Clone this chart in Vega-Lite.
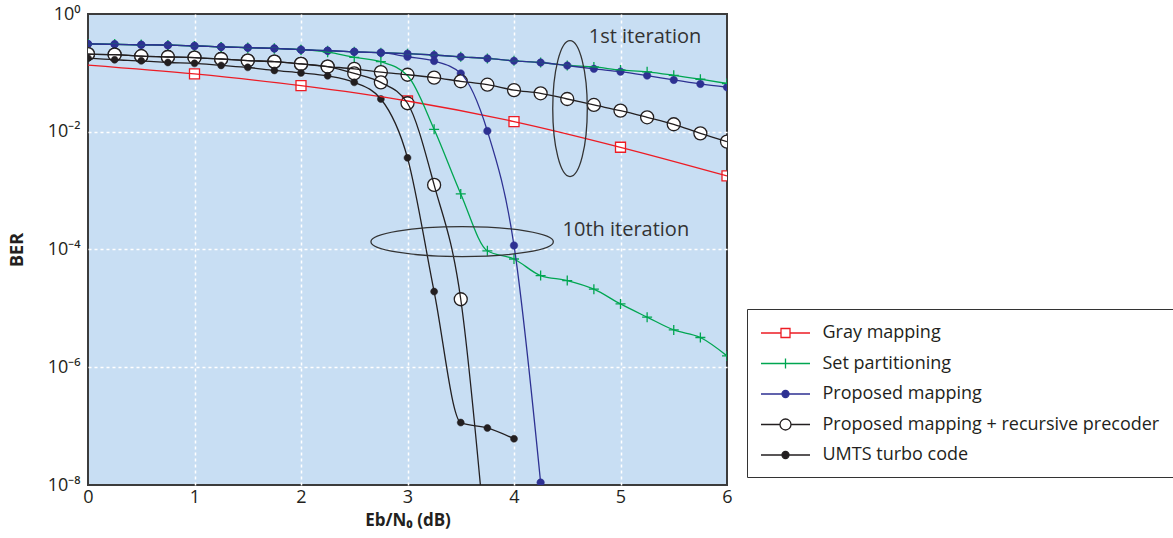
{
  "$schema": "https://vega.github.io/schema/vega-lite/v6.json",
  "autosize": "none",
  "width": 639,
  "height": 471,
  "padding": {"left": 88, "top": 14, "right": 446, "bottom": 53},
  "config": {
    "font": "Open Sans",
    "view": {"fill": "#c8def3", "stroke": "#3c3c3c", "strokeWidth": 2}
  },
  "datasets": {
    "curves": [
      {"s": "Gray mapping", "it": "-", "x": 0, "ber": 0.136},
      {"s": "Gray mapping", "it": "-", "x": 1, "ber": 0.0958},
      {"s": "Gray mapping", "it": "-", "x": 2, "ber": 0.0607},
      {"s": "Gray mapping", "it": "-", "x": 3, "ber": 0.0333},
      {"s": "Gray mapping", "it": "-", "x": 4, "ber": 0.0149},
      {"s": "Gray mapping", "it": "-", "x": 5, "ber": 0.00545},
      {"s": "Gray mapping", "it": "-", "x": 6, "ber": 0.00178},

      {"s": "Set partitioning", "it": "1st", "x": 0, "ber": 0.31},
      {"s": "Set partitioning", "it": "1st", "x": 0.25, "ber": 0.306},
      {"s": "Set partitioning", "it": "1st", "x": 0.5, "ber": 0.3},
      {"s": "Set partitioning", "it": "1st", "x": 0.75, "ber": 0.295},
      {"s": "Set partitioning", "it": "1st", "x": 1, "ber": 0.287},
      {"s": "Set partitioning", "it": "1st", "x": 1.25, "ber": 0.276},
      {"s": "Set partitioning", "it": "1st", "x": 1.5, "ber": 0.268},
      {"s": "Set partitioning", "it": "1st", "x": 1.75, "ber": 0.26},
      {"s": "Set partitioning", "it": "1st", "x": 2, "ber": 0.248},
      {"s": "Set partitioning", "it": "1st", "x": 2.25, "ber": 0.238},
      {"s": "Set partitioning", "it": "1st", "x": 2.5, "ber": 0.228},
      {"s": "Set partitioning", "it": "1st", "x": 2.75, "ber": 0.22},
      {"s": "Set partitioning", "it": "1st", "x": 3, "ber": 0.212},
      {"s": "Set partitioning", "it": "1st", "x": 3.25, "ber": 0.201},
      {"s": "Set partitioning", "it": "1st", "x": 3.5, "ber": 0.187},
      {"s": "Set partitioning", "it": "1st", "x": 3.75, "ber": 0.176},
      {"s": "Set partitioning", "it": "1st", "x": 4, "ber": 0.16},
      {"s": "Set partitioning", "it": "1st", "x": 4.25, "ber": 0.15},
      {"s": "Set partitioning", "it": "1st", "x": 4.5, "ber": 0.134},
      {"s": "Set partitioning", "it": "1st", "x": 4.75, "ber": 0.126},
      {"s": "Set partitioning", "it": "1st", "x": 5, "ber": 0.112},
      {"s": "Set partitioning", "it": "1st", "x": 5.25, "ber": 0.104},
      {"s": "Set partitioning", "it": "1st", "x": 5.5, "ber": 0.091},
      {"s": "Set partitioning", "it": "1st", "x": 5.75, "ber": 0.078},
      {"s": "Set partitioning", "it": "1st", "x": 6, "ber": 0.066},

      {"s": "Set partitioning", "it": "10th", "x": 0, "ber": 0.31},
      {"s": "Set partitioning", "it": "10th", "x": 0.25, "ber": 0.306},
      {"s": "Set partitioning", "it": "10th", "x": 0.5, "ber": 0.3},
      {"s": "Set partitioning", "it": "10th", "x": 0.75, "ber": 0.295},
      {"s": "Set partitioning", "it": "10th", "x": 1, "ber": 0.287},
      {"s": "Set partitioning", "it": "10th", "x": 1.25, "ber": 0.276},
      {"s": "Set partitioning", "it": "10th", "x": 1.5, "ber": 0.268},
      {"s": "Set partitioning", "it": "10th", "x": 1.75, "ber": 0.26},
      {"s": "Set partitioning", "it": "10th", "x": 2, "ber": 0.248},
      {"s": "Set partitioning", "it": "10th", "x": 2.25, "ber": 0.225},
      {"s": "Set partitioning", "it": "10th", "x": 2.5, "ber": 0.184},
      {"s": "Set partitioning", "it": "10th", "x": 2.75, "ber": 0.155},
      {"s": "Set partitioning", "it": "10th", "x": 3, "ber": 0.09},
      {"s": "Set partitioning", "it": "10th", "x": 3.25, "ber": 0.011},
      {"s": "Set partitioning", "it": "10th", "x": 3.5, "ber": 0.00088},
      {"s": "Set partitioning", "it": "10th", "x": 3.75, "ber": 0.000095},
      {"s": "Set partitioning", "it": "10th", "x": 4, "ber": 0.000069},
      {"s": "Set partitioning", "it": "10th", "x": 4.25, "ber": 0.000036},
      {"s": "Set partitioning", "it": "10th", "x": 4.5, "ber": 0.0000297},
      {"s": "Set partitioning", "it": "10th", "x": 4.75, "ber": 0.0000212},
      {"s": "Set partitioning", "it": "10th", "x": 5, "ber": 0.0000119},
      {"s": "Set partitioning", "it": "10th", "x": 5.25, "ber": 0.0000071},
      {"s": "Set partitioning", "it": "10th", "x": 5.5, "ber": 0.0000043},
      {"s": "Set partitioning", "it": "10th", "x": 5.75, "ber": 0.0000032},
      {"s": "Set partitioning", "it": "10th", "x": 6, "ber": 0.00000156},

      {"s": "Proposed mapping", "it": "1st", "x": 0, "ber": 0.31},
      {"s": "Proposed mapping", "it": "1st", "x": 0.25, "ber": 0.306},
      {"s": "Proposed mapping", "it": "1st", "x": 0.5, "ber": 0.3},
      {"s": "Proposed mapping", "it": "1st", "x": 0.75, "ber": 0.295},
      {"s": "Proposed mapping", "it": "1st", "x": 1, "ber": 0.287},
      {"s": "Proposed mapping", "it": "1st", "x": 1.25, "ber": 0.276},
      {"s": "Proposed mapping", "it": "1st", "x": 1.5, "ber": 0.268},
      {"s": "Proposed mapping", "it": "1st", "x": 1.75, "ber": 0.26},
      {"s": "Proposed mapping", "it": "1st", "x": 2, "ber": 0.248},
      {"s": "Proposed mapping", "it": "1st", "x": 2.25, "ber": 0.238},
      {"s": "Proposed mapping", "it": "1st", "x": 2.5, "ber": 0.228},
      {"s": "Proposed mapping", "it": "1st", "x": 2.75, "ber": 0.22},
      {"s": "Proposed mapping", "it": "1st", "x": 3, "ber": 0.212},
      {"s": "Proposed mapping", "it": "1st", "x": 3.25, "ber": 0.201},
      {"s": "Proposed mapping", "it": "1st", "x": 3.5, "ber": 0.187},
      {"s": "Proposed mapping", "it": "1st", "x": 3.75, "ber": 0.176},
      {"s": "Proposed mapping", "it": "1st", "x": 4, "ber": 0.16},
      {"s": "Proposed mapping", "it": "1st", "x": 4.25, "ber": 0.15},
      {"s": "Proposed mapping", "it": "1st", "x": 4.5, "ber": 0.133},
      {"s": "Proposed mapping", "it": "1st", "x": 4.75, "ber": 0.117},
      {"s": "Proposed mapping", "it": "1st", "x": 5, "ber": 0.105},
      {"s": "Proposed mapping", "it": "1st", "x": 5.25, "ber": 0.09},
      {"s": "Proposed mapping", "it": "1st", "x": 5.5, "ber": 0.076},
      {"s": "Proposed mapping", "it": "1st", "x": 5.75, "ber": 0.065},
      {"s": "Proposed mapping", "it": "1st", "x": 6, "ber": 0.057},

      {"s": "Proposed mapping", "it": "10th", "x": 0, "ber": 0.31},
      {"s": "Proposed mapping", "it": "10th", "x": 0.25, "ber": 0.306},
      {"s": "Proposed mapping", "it": "10th", "x": 0.5, "ber": 0.3},
      {"s": "Proposed mapping", "it": "10th", "x": 0.75, "ber": 0.295},
      {"s": "Proposed mapping", "it": "10th", "x": 1, "ber": 0.287},
      {"s": "Proposed mapping", "it": "10th", "x": 1.25, "ber": 0.276},
      {"s": "Proposed mapping", "it": "10th", "x": 1.5, "ber": 0.268},
      {"s": "Proposed mapping", "it": "10th", "x": 1.75, "ber": 0.26},
      {"s": "Proposed mapping", "it": "10th", "x": 2, "ber": 0.248},
      {"s": "Proposed mapping", "it": "10th", "x": 2.25, "ber": 0.238},
      {"s": "Proposed mapping", "it": "10th", "x": 2.5, "ber": 0.228},
      {"s": "Proposed mapping", "it": "10th", "x": 2.75, "ber": 0.22},
      {"s": "Proposed mapping", "it": "10th", "x": 3, "ber": 0.188},
      {"s": "Proposed mapping", "it": "10th", "x": 3.25, "ber": 0.159},
      {"s": "Proposed mapping", "it": "10th", "x": 3.5, "ber": 0.098},
      {"s": "Proposed mapping", "it": "10th", "x": 3.75, "ber": 0.0103},
      {"s": "Proposed mapping", "it": "10th", "x": 4, "ber": 0.000117},
      {"s": "Proposed mapping", "it": "10th", "x": 4.25, "ber": 0.000000011},

      {"s": "Proposed mapping + recursive precoder", "it": "1st", "x": 0, "ber": 0.209},
      {"s": "Proposed mapping + recursive precoder", "it": "1st", "x": 0.25, "ber": 0.204},
      {"s": "Proposed mapping + recursive precoder", "it": "1st", "x": 0.5, "ber": 0.192},
      {"s": "Proposed mapping + recursive precoder", "it": "1st", "x": 0.75, "ber": 0.186},
      {"s": "Proposed mapping + recursive precoder", "it": "1st", "x": 1, "ber": 0.182},
      {"s": "Proposed mapping + recursive precoder", "it": "1st", "x": 1.25, "ber": 0.172},
      {"s": "Proposed mapping + recursive precoder", "it": "1st", "x": 1.5, "ber": 0.162},
      {"s": "Proposed mapping + recursive precoder", "it": "1st", "x": 1.75, "ber": 0.155},
      {"s": "Proposed mapping + recursive precoder", "it": "1st", "x": 2, "ber": 0.142},
      {"s": "Proposed mapping + recursive precoder", "it": "1st", "x": 2.25, "ber": 0.128},
      {"s": "Proposed mapping + recursive precoder", "it": "1st", "x": 2.5, "ber": 0.117},
      {"s": "Proposed mapping + recursive precoder", "it": "1st", "x": 2.75, "ber": 0.103},
      {"s": "Proposed mapping + recursive precoder", "it": "1st", "x": 3, "ber": 0.093},
      {"s": "Proposed mapping + recursive precoder", "it": "1st", "x": 3.25, "ber": 0.083},
      {"s": "Proposed mapping + recursive precoder", "it": "1st", "x": 3.5, "ber": 0.072},
      {"s": "Proposed mapping + recursive precoder", "it": "1st", "x": 3.75, "ber": 0.063},
      {"s": "Proposed mapping + recursive precoder", "it": "1st", "x": 4, "ber": 0.051},
      {"s": "Proposed mapping + recursive precoder", "it": "1st", "x": 4.25, "ber": 0.045},
      {"s": "Proposed mapping + recursive precoder", "it": "1st", "x": 4.5, "ber": 0.036},
      {"s": "Proposed mapping + recursive precoder", "it": "1st", "x": 4.75, "ber": 0.0285},
      {"s": "Proposed mapping + recursive precoder", "it": "1st", "x": 5, "ber": 0.0228},
      {"s": "Proposed mapping + recursive precoder", "it": "1st", "x": 5.25, "ber": 0.0176},
      {"s": "Proposed mapping + recursive precoder", "it": "1st", "x": 5.5, "ber": 0.0134},
      {"s": "Proposed mapping + recursive precoder", "it": "1st", "x": 5.75, "ber": 0.0094},
      {"s": "Proposed mapping + recursive precoder", "it": "1st", "x": 6, "ber": 0.0068},

      {"s": "Proposed mapping + recursive precoder", "it": "10th", "x": 0, "ber": 0.209},
      {"s": "Proposed mapping + recursive precoder", "it": "10th", "x": 0.25, "ber": 0.204},
      {"s": "Proposed mapping + recursive precoder", "it": "10th", "x": 0.5, "ber": 0.192},
      {"s": "Proposed mapping + recursive precoder", "it": "10th", "x": 0.75, "ber": 0.186},
      {"s": "Proposed mapping + recursive precoder", "it": "10th", "x": 1, "ber": 0.182},
      {"s": "Proposed mapping + recursive precoder", "it": "10th", "x": 1.25, "ber": 0.172},
      {"s": "Proposed mapping + recursive precoder", "it": "10th", "x": 1.5, "ber": 0.162},
      {"s": "Proposed mapping + recursive precoder", "it": "10th", "x": 1.75, "ber": 0.155},
      {"s": "Proposed mapping + recursive precoder", "it": "10th", "x": 2, "ber": 0.142},
      {"s": "Proposed mapping + recursive precoder", "it": "10th", "x": 2.25, "ber": 0.128},
      {"s": "Proposed mapping + recursive precoder", "it": "10th", "x": 2.5, "ber": 0.098},
      {"s": "Proposed mapping + recursive precoder", "it": "10th", "x": 2.75, "ber": 0.069},
      {"s": "Proposed mapping + recursive precoder", "it": "10th", "x": 3, "ber": 0.0305},
      {"s": "Proposed mapping + recursive precoder", "it": "10th", "x": 3.25, "ber": 0.00125},
      {"s": "Proposed mapping + recursive precoder", "it": "10th", "x": 3.5, "ber": 0.0000143},
      {"s": "Proposed mapping + recursive precoder", "it": "10th", "x": 3.75, "ber": 0.00000000049},

      {"s": "UMTS turbo code", "it": "-", "x": 0, "ber": 0.178},
      {"s": "UMTS turbo code", "it": "-", "x": 0.25, "ber": 0.167},
      {"s": "UMTS turbo code", "it": "-", "x": 0.5, "ber": 0.16},
      {"s": "UMTS turbo code", "it": "-", "x": 0.75, "ber": 0.15},
      {"s": "UMTS turbo code", "it": "-", "x": 1, "ber": 0.145},
      {"s": "UMTS turbo code", "it": "-", "x": 1.25, "ber": 0.134},
      {"s": "UMTS turbo code", "it": "-", "x": 1.5, "ber": 0.124},
      {"s": "UMTS turbo code", "it": "-", "x": 1.75, "ber": 0.11},
      {"s": "UMTS turbo code", "it": "-", "x": 2, "ber": 0.1},
      {"s": "UMTS turbo code", "it": "-", "x": 2.25, "ber": 0.089},
      {"s": "UMTS turbo code", "it": "-", "x": 2.5, "ber": 0.069},
      {"s": "UMTS turbo code", "it": "-", "x": 2.75, "ber": 0.036},
      {"s": "UMTS turbo code", "it": "-", "x": 3, "ber": 0.0036},
      {"s": "UMTS turbo code", "it": "-", "x": 3.25, "ber": 0.0000193},
      {"s": "UMTS turbo code", "it": "-", "x": 3.5, "ber": 0.000000115},
      {"s": "UMTS turbo code", "it": "-", "x": 3.75, "ber": 0.000000093},
      {"s": "UMTS turbo code", "it": "-", "x": 4, "ber": 0.000000061}
    ],
    "notes": [
      {"x": 5.23, "ber": 0.407, "label": "1st iteration"},
      {"x": 5.05, "ber": 0.000215, "label": "10th iteration"}
    ],
    "ellipses": [
      {"name": "1st", "x": 4.526, "ber": 0.0247},
      {"name": "10th", "x": 3.513, "ber": 0.000136}
    ]
  },
  "encoding": {
    "x": {
      "field": "x", "type": "quantitative",
      "scale": {"domain": [0, 6], "nice": false, "zero": false},
      "axis": {
        "title": "Eb/N₀ (dB)",
        "values": [0, 1, 2, 3, 4, 5, 6],
        "format": "d",
        "domain": false, "ticks": false, "labelFlush": false,
        "labelFont": "Open Sans", "labelFontSize": 18, "labelColor": "#231f20", "labelPadding": 3,
        "titleFont": "Open Sans", "titleFontSize": 17, "titleFontWeight": "bold", "titleColor": "#231f20", "titlePadding": 6,
        "grid": true, "gridColor": "#ffffff", "gridDash": [3, 3], "gridWidth": 1.5,
        "gridOpacity": {"condition": {"test": "datum.value == 0 || datum.value == 6", "value": 0}, "value": 1}
      }
    },
    "y": {
      "field": "ber", "type": "quantitative",
      "scale": {"type": "log", "domain": [1e-8, 1], "nice": false},
      "axis": {
        "title": "BER",
        "values": [1e-8, 1e-6, 1e-4, 1e-2, 1],
        "labelExpr": "datum.value > 0.5 ? '10⁰' : datum.value > 0.005 ? '10⁻²' : datum.value > 0.00005 ? '10⁻⁴' : datum.value > 0.0000005 ? '10⁻⁶' : '10⁻⁸'",
        "domain": false, "ticks": false, "labelFlush": false,
        "labelFont": "Open Sans", "labelFontSize": 18, "labelColor": "#231f20", "labelPadding": 8,
        "titleFont": "Open Sans", "titleFontSize": 18, "titleFontWeight": "bold", "titleColor": "#231f20", "titlePadding": 21,
        "grid": true, "gridColor": "#ffffff", "gridDash": [3, 3], "gridWidth": 1.5,
        "gridOpacity": {"condition": {"test": "datum.value > 0.5 || datum.value < 0.0000001", "value": 0}, "value": 1}
      }
    }
  },
  "layer": [
    {
      "data": {"name": "curves"},
      "transform": [{"filter": "datum.s == 'Gray mapping' && datum.x > 0"}],
      "mark": {"type": "point", "size": 100, "strokeWidth": 1.3, "opacity": 1, "clip": true,
               "shape": "M-1,-1H1V1H-1Z", "fill": "#ffffff", "stroke": "#ed1c24"}
    },
    {
      "data": {"name": "curves"},
      "transform": [{"filter": "datum.s == 'Set partitioning'"}],
      "mark": {"type": "point", "size": 100, "strokeWidth": 1.3, "opacity": 1, "clip": true,
               "shape": "M-1,0H1M0,-1V1", "fill": "transparent", "stroke": "#00a651"}
    },
    {
      "data": {"name": "curves"},
      "transform": [{"filter": "datum.s == 'Proposed mapping'"}],
      "mark": {"type": "point", "size": 100, "strokeWidth": 0.5, "opacity": 1, "clip": true,
               "shape": "M-0.75,0A0.75,0.75,0,1,1,0.75,0A0.75,0.75,0,1,1,-0.75,0Z", "fill": "#2e3192", "stroke": "#2e3192"}
    },
    {
      "data": {"name": "curves"},
      "transform": [{"filter": "datum.s == 'Proposed mapping + recursive precoder'"}],
      "mark": {"type": "point", "size": 100, "strokeWidth": 1.3, "opacity": 1, "clip": true,
               "shape": "M-1.3,0A1.3,1.3,0,1,1,1.3,0A1.3,1.3,0,1,1,-1.3,0Z", "fill": "#ffffff", "stroke": "#231f20"}
    },
    {
      "data": {"name": "curves"},
      "transform": [{"filter": "datum.s == 'UMTS turbo code'"}],
      "mark": {"type": "point", "size": 100, "strokeWidth": 0.5, "opacity": 1, "clip": true,
               "shape": "M-0.7,0A0.7,0.7,0,1,1,0.7,0A0.7,0.7,0,1,1,-0.7,0Z", "fill": "#231f20", "stroke": "#231f20"}
    },
    {
      "data": {"name": "curves"},
      "mark": {"type": "line", "strokeWidth": 1.3, "interpolate": "monotone", "clip": true},
      "encoding": {
        "stroke": {"field": "s", "type": "nominal"},
        "detail": [{"field": "s"}, {"field": "it"}],
        "order": {"field": "x", "type": "quantitative"}
      }
    },
    {
      "data": {"name": "curves"},
      "transform": [{"filter": "datum.x < -1"}],
      "mark": {"type": "point", "size": 400, "strokeWidth": 1.3, "opacity": 1},
      "encoding": {
        "stroke": {
          "field": "s", "type": "nominal",
          "scale": {
            "domain": ["Gray mapping", "Set partitioning", "Proposed mapping", "Proposed mapping + recursive precoder", "UMTS turbo code"],
            "range": ["#ed1c24", "#00a651", "#2e3192", "#231f20", "#231f20"]
          },
          "legend": {
            "title": null,
            "orient": "none",
            "legendX": 659,
            "legendY": 295,
            "strokeColor": "#333333",
            "padding": 13,
            "labelFont": "Open Sans",
            "labelFontSize": 18,
            "labelColor": "#231f20",
            "labelLimit": 600,
            "labelOffset": 26,
            "symbolOffset": 14.5,
            "rowPadding": 10.5,
            "symbolStrokeWidth": 1.3,
            "symbolSize": 400,
            "symbolOpacity": 1
          }
        },
        "fill": {
          "field": "s", "type": "nominal",
          "scale": {
            "domain": ["Gray mapping", "Set partitioning", "Proposed mapping", "Proposed mapping + recursive precoder", "UMTS turbo code"],
            "range": ["#ffffff", "transparent", "#2e3192", "#ffffff", "#231f20"]
          }
        },
        "shape": {
          "field": "s", "type": "nominal",
          "scale": {
            "domain": ["Gray mapping", "Set partitioning", "Proposed mapping", "Proposed mapping + recursive precoder", "UMTS turbo code"],
            "range": [
              "M-2.45,0H-0.45M-0.45,-0.45H0.45V0.45H-0.45ZM0.45,0H2.45",
              "M-2.45,0H2.45M0,-0.5V0.5",
              "M-2.45,0H2.45M-0.35,0A0.35,0.35,0,1,1,0.35,0A0.35,0.35,0,1,1,-0.35,0Z",
              "M-2.45,0H-0.55M-0.55,0A0.55,0.55,0,1,1,0.55,0A0.55,0.55,0,1,1,-0.55,0ZM0.55,0H2.45",
              "M-2.45,0H2.45M-0.35,0A0.35,0.35,0,1,1,0.35,0A0.35,0.35,0,1,1,-0.35,0Z"
            ]
          }
        }
      }
    },
    {
      "data": {"name": "ellipses"},
      "transform": [{"filter": "datum.name == '1st'"}],
      "mark": {"type": "point", "filled": false, "color": "#333333", "opacity": 1, "strokeWidth": 1.3, "size": 18496,
               "shape": "M0,-1A0.254,1,0,1,1,0,1A0.254,1,0,1,1,0,-1Z"}
    },
    {
      "data": {"name": "ellipses"},
      "transform": [{"filter": "datum.name == '10th'"}],
      "mark": {"type": "point", "filled": false, "color": "#333333", "opacity": 1, "strokeWidth": 1.3, "size": 33270,
               "shape": "M-1,0A1,0.164,0,1,1,1,0A1,0.164,0,1,1,-1,0Z"}
    },
    {
      "data": {"name": "notes"},
      "mark": {"type": "text", "font": "Open Sans", "fontSize": 20, "color": "#333333", "align": "center", "baseline": "middle"},
      "encoding": {"text": {"field": "label"}}
    }
  ]
}
